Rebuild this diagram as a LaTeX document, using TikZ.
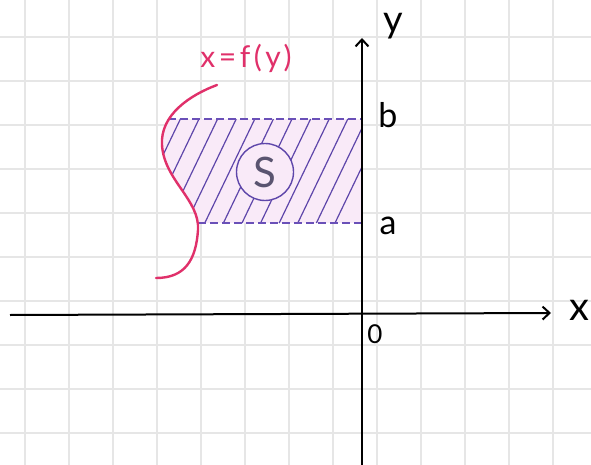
\documentclass[tikz,border=0pt]{standalone}
\usepackage{fontspec}
\setmainfont{Lato}
\usetikzlibrary{arrows.meta}
\definecolor{gridc}{HTML}{E6E6E6}
\definecolor{curvec}{HTML}{E0306A}
\definecolor{hatchc}{HTML}{5E46AA}
\definecolor{dashc}{HTML}{6A50B8}
\definecolor{fillc}{HTML}{F9EAF8}
\definecolor{scol}{HTML}{5A5470}
\begin{document}
\begin{tikzpicture}[x=1pt,y=-1pt,
  gridline/.style={gridc,line width=1.2pt},
  axisline/.style={black,line width=2pt,-{Straight Barb[length=7pt,width=13pt,line width=2pt]}},
  fcurve/.style={curvec,line width=2.4pt,line cap=round},
  hatchline/.style={hatchc,line width=1.2pt},
  dashline/.style={dashc,line width=1.1pt,dash pattern=on 8pt off 4pt},
  lab/.style={inner sep=0pt,text=black}]
\useasboundingbox (0,0) rectangle (591,465);
\fill[white] (0,0) rectangle (591,465);
% grid
\foreach \gx in {25,69,...,553} \draw[gridline] (\gx,0) -- (\gx,465);
\foreach \gy in {37,81,...,433} \draw[gridline] (0,\gy) -- (591,\gy);
% hatched region
\begin{scope}
  \clip (150,119) rectangle (362,223);
  \clip (217,85) .. controls (190,95) and (160,115) .. (162,145)
        .. controls (164,180) and (200,200) .. (198,230)
        -- (362,230) -- (362,85) -- cycle;
  \fill[fillc] (150,119) rectangle (362,223);
  \foreach \k in {0,...,12}
    \draw[hatchline] ({385-18.6*\k},119) -- ({335-18.6*\k},223);
\end{scope}
% dashed bounds
\coordinate (bL) at (168,119);
\coordinate (bR) at (362,119);
\coordinate (aL) at (198,223);
\coordinate (aR) at (362,223);
\draw[dashline] (bL) -- (bR);
\draw[dashline] (aL) -- (aR);
% curve x=f(y)
\coordinate (cTop) at (217,85);
\coordinate (cEnd) at (156,278);
\draw[fcurve] (cTop) .. controls (190,95) and (160,115) .. (162,145)
      .. controls (164,180) and (200,200) .. (198,230)
      .. controls (196,260) and (185,278) .. (cEnd);
% axes
\coordinate (xs) at (10,315);
\coordinate (xe) at (551,313);
\coordinate (ys) at (362,470);
\coordinate (ye) at (362,38);
\draw[axisline] (xs) -- (xe);
\draw[axisline] (ys) -- (ye);
% S circle
\node[circle,draw=hatchc,fill=fillc,line width=1.4pt,minimum size=57pt,inner sep=0pt,text=scol]
  (S) at (265,172) {\fontsize{42}{42}\selectfont S};
% labels
\node[lab] (ylab) at (393,26) {\fontsize{38}{38}\selectfont y};
\node[lab] (xlab) at (579,310) {\fontsize{40}{40}\selectfont x};
\node[lab] (blab) at (388,115) {\fontsize{34}{34}\selectfont b};
\node[lab] (alab) at (388,226) {\fontsize{34}{34}\selectfont a};
\node[lab] (olab) at (375,334) {\fontsize{26}{26}\selectfont 0};
\node[inner sep=0pt,text=curvec] (flab) at (246,58)
  {\fontsize{30}{30}\selectfont\addfontfeature{LetterSpace=12}x=f(y)};
\end{tikzpicture}
\end{document}
